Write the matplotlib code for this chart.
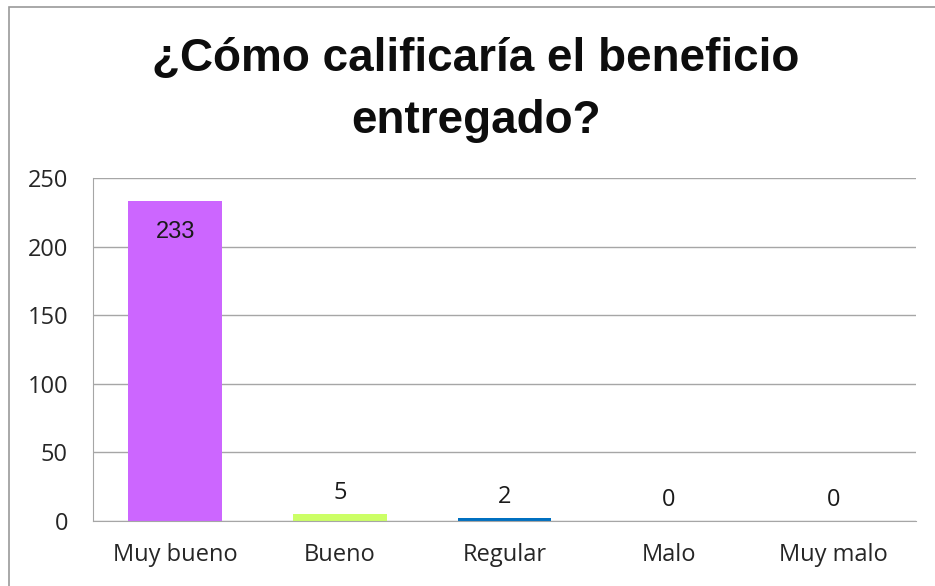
import matplotlib.pyplot as plt
from matplotlib.patches import Rectangle

# data
categorias = ['Muy bueno', 'Bueno', 'Regular', 'Malo', 'Muy malo']
respuestas = [233, 5, 2, 0, 0]
colores = ['#CC66FF', '#CCFF66', '#0070C0', '#A5A5A5', '#FFC000']
yticks = [0, 50, 100, 150, 200, 250]

W, H = 935, 586
fig = plt.figure(figsize=(W / 100, H / 100), dpi=100)

# chart frame (only left and top edges visible)
fig.patches.append(Rectangle((8.5 / W, -0.1), 2, 1 - 6.5 / H + 0.1,
                             transform=fig.transFigure, fill=False,
                             edgecolor='#9a9a9a', linewidth=1.2))

ax = fig.add_axes([93 / W, 1 - 521 / H, (916 - 93) / W, (521 - 178) / H])
x = range(len(categorias))
bars = ax.bar(x, respuestas, width=0.57, color=colores)

ax.set_xlim(-0.5, len(categorias) - 0.5)
ax.set_ylim(0, 250)
ax.set_yticks(yticks)
ax.set_xticks(list(x))
ax.set_xticklabels(categorias)
ax.yaxis.grid(True, color='#a6a6a6', linewidth=1.0)
ax.set_axisbelow(True)
for s in ['top', 'right']:
    ax.spines[s].set_visible(False)
ax.spines['left'].set_color('#a6a6a6')
ax.spines['bottom'].set_color('#a6a6a6')
ax.tick_params(length=0, labelsize=17, colors='#262626')
ax.tick_params(axis='y', pad=18)
ax.tick_params(axis='x', pad=16)
for lbl in ax.get_xticklabels() + ax.get_yticklabels():
    lbl.set_fontfamily('Open Sans')

# value labels
for b, v in zip(bars, respuestas):
    cx = b.get_x() + b.get_width() / 2
    if v > 100:
        ax.annotate(str(v), (cx, v), xytext=(0, -22),
                    textcoords='offset points', ha='center', va='center',
                    fontsize=17, family='Liberation Sans', color='#1a1a1a')
    else:
        ax.annotate(str(v), (cx, v), xytext=(0, 15),
                    textcoords='offset points', ha='center', va='center',
                    fontsize=17, family='Open Sans', color='#1a1a1a')

fig.text(476 / W, 1 - 90 / H, '¿Cómo calificaría el beneficio\nentregado?',
         ha='center', va='center', fontsize=33, fontweight='bold',
         family='Liberation Sans', linespacing=1.5, color='#0d0d0d')

fig.savefig('out.png', dpi=100)
